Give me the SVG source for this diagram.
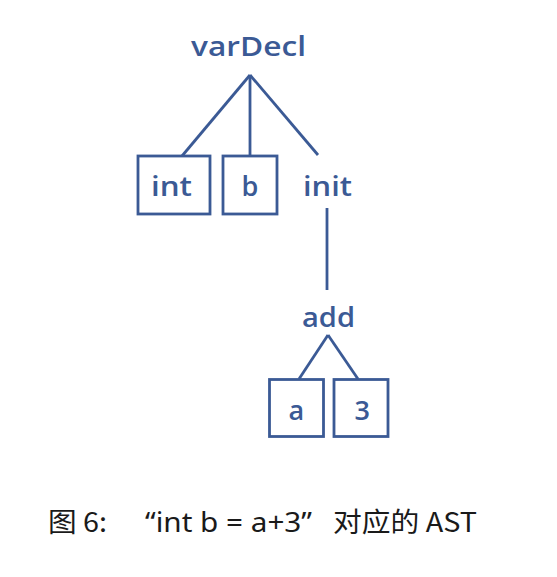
<svg xmlns="http://www.w3.org/2000/svg" width="557" height="577" viewBox="0 0 557 577">
<style>
.lbl{font-family:"Open Sans","Noto Sans",sans-serif;font-weight:600;font-size:27px;fill:#3b5a95;text-anchor:start}
.box{fill:none;stroke:#3b5a95;stroke-width:2.8}
.edge{fill:none;stroke:#3b5a95;stroke-width:2.8}
.cap{font-family:"Noto Sans CJK SC","Noto Sans",sans-serif;font-size:27px;fill:#1a1a1a}
.lat{font-family:"Noto Sans","Noto Sans CJK SC",sans-serif}
</style>
<rect width="557" height="577" fill="#ffffff"/>
<g id="connectors">
<line class="edge" x1="250" y1="75" x2="182" y2="156"/>
<line class="edge" x1="250" y1="75" x2="250" y2="156"/>
<line class="edge" x1="250" y1="75" x2="318" y2="155"/>
<line class="edge" x1="327" y1="208" x2="327" y2="290"/>
<line class="edge" x1="328" y1="335" x2="299" y2="379"/>
<line class="edge" x1="328" y1="335" x2="358" y2="379"/>
</g>
<g id="varDecl"><text class="lbl" x="191" y="56" textLength="115" lengthAdjust="spacingAndGlyphs">varDecl</text></g>
<g id="int"><rect class="box" x="138" y="156" width="72" height="58"/><text class="lbl" x="151" y="196" textLength="41" lengthAdjust="spacingAndGlyphs">int</text></g>
<g id="b"><rect class="box" x="223" y="156" width="54" height="58"/><text class="lbl" x="241.5" y="196">b</text></g>
<g id="init"><text class="lbl" x="303" y="196" textLength="49" lengthAdjust="spacingAndGlyphs">init</text></g>
<g id="add"><text class="lbl" x="302" y="327" textLength="53" lengthAdjust="spacingAndGlyphs">add</text></g>
<g id="a"><rect class="box" x="269.5" y="379.5" width="54" height="57"/><text class="lbl" x="288.5" y="420">a</text></g>
<g id="three"><rect class="box" x="334" y="379.5" width="54" height="57"/><text class="lbl" x="354.5" y="420">3</text></g>
<g id="caption"><text class="cap" y="532"><tspan x="48" textLength="59" lengthAdjust="spacingAndGlyphs">图 6:</tspan><tspan class="lat" x="145" textLength="167" lengthAdjust="spacingAndGlyphs">“int b = a+3”</tspan><tspan x="333" textLength="144" lengthAdjust="spacingAndGlyphs">对应的 AST</tspan></text></g>
</svg>
